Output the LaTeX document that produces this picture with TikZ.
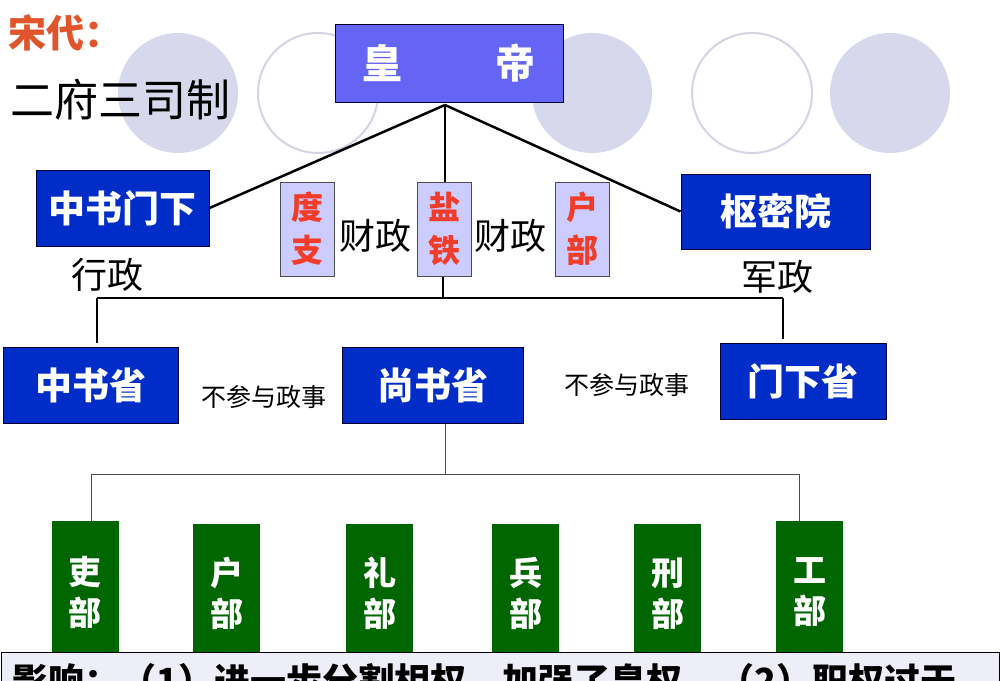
\documentclass[tikz,border=0pt]{standalone}
\usepackage{fontspec}
\setmainfont{Noto Sans CJK SC}
\definecolor{empblue}{RGB}{100,100,245}
\definecolor{dblue}{RGB}{0,45,200}
\definecolor{lav}{RGB}{204,204,255}
\definecolor{circfill}{RGB}{216,216,236}
\definecolor{circline}{RGB}{212,212,228}
\definecolor{dgreen}{RGB}{0,102,0}
\definecolor{songred}{RGB}{225,85,45}
\definecolor{redtxt}{RGB}{240,60,40}
\definecolor{bottombg}{RGB}{238,238,248}
\begin{document}
\begin{tikzpicture}[x=1pt,y=-1pt,
  bluebox/.style={draw=black!80!blue, fill=dblue, text=white, inner sep=0pt, line width=1pt,
    font=\bfseries\fontsize{37}{37}\selectfont},
  lavbox/.style={draw=black!70, fill=lav, text=redtxt, inner sep=0pt, line width=1pt,
    minimum width=54pt, minimum height=94pt, align=center,
    font=\bfseries\fontsize{32}{43}\selectfont},
  greenbox/.style={fill=dgreen, text=white, inner sep=0pt, minimum width=67pt, align=center,
    font=\bfseries\fontsize{33}{41}\selectfont},
  lbl/.style={inner sep=0pt, font=\fontsize{36}{36}\selectfont},
  small/.style={inner sep=0pt, font=\fontsize{25}{25}\selectfont},
  conn/.style={line width=2.5pt, black},
  thin/.style={line width=1pt, black!70},
  filledcirc/.style={fill=circfill, draw=none},
  opencirc/.style={fill=white, draw=circline, line width=2pt}
]
\useasboundingbox (0,0) rectangle (1000,680);
\clip (0,0) rectangle (1000,680);
\fill[white] (0,0) rectangle (1000,680);

% background circles
\fill[filledcirc] (178,93) circle (60);
\draw[opencirc] (318,93) circle (60);
\fill[filledcirc] (592,93) circle (60);
\draw[opencirc] (752,93) circle (60);
\fill[filledcirc] (890,93) circle (60);

% titles
\node[anchor=west, inner sep=0pt, text=songred, font=\bfseries\fontsize{38}{38}\selectfont] (title) at (8,33) {宋代：};
\node[anchor=west, inner sep=0pt, font=\fontsize{44}{44}\selectfont] (sub) at (10,100) {二府三司制};

% emperor
\node[draw=black!80!blue, fill=empblue, text=white, inner sep=0pt, line width=1pt,
  minimum width=228pt, minimum height=78pt, font=\bfseries\fontsize{40}{40}\selectfont]
  (emp) at (449,63) {皇\hspace{93pt}帝};

% second level
\node[bluebox, minimum width=173pt, minimum height=76pt] (zsmx) at (122.5,208) {中书门下};
\node[bluebox, minimum width=189pt, minimum height=75pt] (smy) at (775.5,211.5) {枢密院};
\node[lavbox] (dz) at (307,229) {度\\支};
\node[lavbox] (yt) at (444.5,229) {盐\\铁};
\node[lavbox] (hb) at (582.5,229) {户\\部};
\node[lbl] (cz1) at (375,236) {财政};
\node[lbl] (cz2) at (510,236) {财政};
\node[lbl] (xz) at (107,275) {行政};
\node[lbl] (jz) at (777,277) {军政};

\coordinate (j0) at (445,105);
\draw[conn] (j0) -- (zsmx.east);
\draw[conn] (j0) -- (smy.west);
\draw[conn] (j0) -- (yt.north -| j0);

% third level
\node[bluebox, minimum width=175pt, minimum height=76pt] (zss) at (90.5,385) {中书省};
\node[bluebox, minimum width=181pt, minimum height=76pt] (sss) at (432.5,385) {尚书省};
\node[bluebox, minimum width=166pt, minimum height=76pt] (mxs) at (803,381) {门下省};
\node[small] (bc1) at (264,397) {不参与政事};
\node[small] (bc2) at (627,385) {不参与政事};

\coordinate (j1) at (443,298);
\coordinate (j2) at (97,298);
\coordinate (j3) at (783,298);
\draw[conn] (yt.south -| j1) -- (j1);
\draw[conn] (j2) -- (j3);
\draw[conn] (j2) -- ([yshift=4pt]j2 |- zss.north);
\draw[conn] (j3) -- ([yshift=4pt]j3 |- mxs.north);

% six ministries
\node[greenbox, minimum height=142pt] (lb) at (85,592) {吏\\部};
\node[greenbox, minimum height=139pt] (hub) at (226.5,593.5) {户\\部};
\node[greenbox, minimum height=139pt] (lib) at (379.5,593.5) {礼\\部};
\node[greenbox, minimum height=139pt] (bb) at (525.5,593.5) {兵\\部};
\node[greenbox, minimum height=139pt] (xb) at (667.5,593.5) {刑\\部};
\node[greenbox, minimum height=142pt] (gb) at (809.5,592) {工\\部};

\coordinate (k1) at (445,474);
\coordinate (k2) at (91,474);
\coordinate (k3) at (799,474);
\draw[thin] (k1 |- sss.south) -- (k1);
\draw[thin] (k2) -- (k3);
\draw[thin] (k2) -- (k2 |- lb.north);
\draw[thin] (k3) -- (k3 |- gb.north);

% bottom note
\node[draw=black, line width=1.2pt, fill=bottombg, anchor=north west, inner sep=0pt,
  minimum width=998pt, minimum height=60pt] (note) at (1,652) {};
\node[anchor=base west, inner sep=0pt, font=\bfseries\fontsize{36}{36}\selectfont] (notetext)
  at (12,694) {影响：（1）进一步分割相权，加强了皇权。（2）职权过于};
\end{tikzpicture}
\end{document}
